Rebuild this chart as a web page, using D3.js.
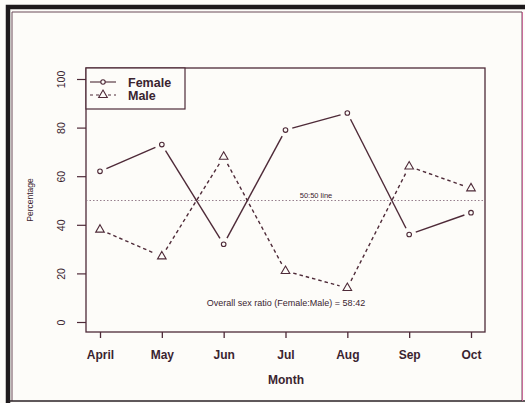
<!DOCTYPE html>
<html>
<head>
<meta charset="utf-8">
<script src="https://cdn.jsdelivr.net/npm/d3@7"></script>
<style>
  html, body { margin: 0; padding: 0; background: #ffffff; }
  svg { display: block; }
  text { font-family: "Liberation Sans", Arial, sans-serif; fill: #3a2430; }
</style>
</head>
<body>
<svg id="chart" width="525" height="403"></svg>
<script>
// Monthly sex composition (percent of catch)
const months = ["April", "May", "Jun", "Jul", "Aug", "Sep", "Oct"];
const female = [62, 73, 32, 79, 86, 36, 45];
const male = [38, 27, 68, 21, 14, 64, 55];
const yTicks = [0, 20, 40, 60, 80, 100];
const seriesNames = ["Female", "Male"];

const ink = "#4e2a38";
const svg = d3.select("#chart");

// paper + frame
svg.append("rect").attr("x", 0).attr("y", 0).attr("width", 525).attr("height", 403).attr("fill", "#fdfcf9");
svg.append("path").attr("d", "M8,403 V7 H525").attr("fill", "none").attr("stroke", "#1e1a1c").attr("stroke-width", 4.5);
svg.append("path").attr("d", "M12,401 V12 H522 V401").attr("fill", "none").attr("stroke", "#6a4a58").attr("stroke-width", 1);
svg.append("line").attr("x1", 8).attr("x2", 525).attr("y1", 401).attr("y2", 401).attr("stroke", "#2a2226").attr("stroke-width", 1.5);
svg.append("line").attr("x1", 522.5).attr("x2", 522.5).attr("y1", 12).attr("y2", 401).attr("stroke", "#c86a9a").attr("stroke-width", 1);

const plot = { left: 86, right: 485, top: 68, bottom: 332 };

const x = d3.scalePoint().domain(months).range([100, 471]);
const y = d3.scaleLinear().domain([0, 100]).range([322, 79]);

// plot box
svg.append("rect")
  .attr("x", plot.left).attr("y", plot.top)
  .attr("width", plot.right - plot.left).attr("height", plot.bottom - plot.top)
  .attr("fill", "none").attr("stroke", ink).attr("stroke-width", 1.3);

// x axis ticks and labels
const xAxis = svg.append("g").attr("transform", `translate(0,${plot.bottom})`)
  .call(d3.axisBottom(x).tickSize(6).tickPadding(12));
xAxis.select(".domain").remove();
xAxis.selectAll(".tick line").attr("stroke", ink).attr("stroke-width", 1.3);
xAxis.selectAll(".tick text")
  .attr("font-size", 12).attr("font-weight", "bold")
  .attr("font-family", "Liberation Sans, Arial, sans-serif")
  .style("fill", "#3a2430");

// y axis ticks and rotated labels
const yAxis = svg.append("g").attr("transform", `translate(${plot.left},0)`)
  .call(d3.axisLeft(y).tickValues(yTicks).tickSize(9).tickFormat(d3.format("d")));
yAxis.select(".domain").remove();
yAxis.selectAll(".tick line").attr("stroke", ink).attr("stroke-width", 1.2);
yAxis.selectAll(".tick text")
  .attr("x", null).attr("dy", null)
  .attr("transform", "translate(-25,0) rotate(-90)")
  .attr("text-anchor", "middle")
  .attr("dominant-baseline", "central")
  .attr("font-size", 10.5)
  .attr("font-family", "Liberation Sans, Arial, sans-serif")
  .style("fill", "#3a2430");

// axis titles
svg.append("text").attr("x", 286).attr("y", 384).attr("text-anchor", "middle")
  .attr("font-size", 12).attr("font-weight", "bold").text("Month");
svg.append("text").attr("transform", "translate(33,200) rotate(-90)").attr("text-anchor", "middle")
  .attr("font-size", 8.5).text("Percentage");

// 50:50 reference line
svg.append("line")
  .attr("x1", plot.left).attr("x2", plot.right).attr("y1", y(50)).attr("y2", y(50))
  .attr("stroke", "#8a7080").attr("stroke-width", 0.9).attr("stroke-dasharray", "1.5,2");
svg.append("text").attr("x", 316).attr("y", y(50) - 3).attr("text-anchor", "middle")
  .attr("font-size", 7.5).text("50:50 line");

svg.append("text").attr("x", 286).attr("y", 306).attr("text-anchor", "middle")
  .attr("font-size", 9).text("Overall sex ratio (Female:Male) = 58:42");

// connecting segments with a gap around each marker (R type = "b")
function segments(values, gap) {
  const pts = values.map((v, i) => [x(months[i]), y(v)]);
  const segs = [];
  for (let i = 0; i < pts.length - 1; i++) {
    const [x0, y0] = pts[i], [x1, y1] = pts[i + 1];
    const len = Math.hypot(x1 - x0, y1 - y0);
    const ux = (x1 - x0) / len, uy = (y1 - y0) / len;
    segs.push([x0 + ux * gap, y0 + uy * gap, x1 - ux * gap, y1 - uy * gap]);
  }
  return segs;
}

svg.append("g").selectAll("line").data(segments(female, 7)).join("line")
  .attr("x1", d => d[0]).attr("y1", d => d[1]).attr("x2", d => d[2]).attr("y2", d => d[3])
  .attr("stroke", ink).attr("stroke-width", 1.4);

svg.append("g").selectAll("line").data(segments(male, 8)).join("line")
  .attr("x1", d => d[0]).attr("y1", d => d[1]).attr("x2", d => d[2]).attr("y2", d => d[3])
  .attr("stroke", ink).attr("stroke-width", 1.4).attr("stroke-dasharray", "3.5,3");

// markers
svg.append("g").selectAll("circle").data(female).join("circle")
  .attr("cx", (d, i) => x(months[i])).attr("cy", d => y(d)).attr("r", 2.3)
  .attr("fill", "none").attr("stroke", ink).attr("stroke-width", 1.1);

const tri = d3.symbol().type(d3.symbolTriangle).size(32);
svg.append("g").selectAll("path").data(male).join("path")
  .attr("d", tri)
  .attr("transform", (d, i) => `translate(${x(months[i])},${y(d)})`)
  .attr("fill", "none").attr("stroke", ink).attr("stroke-width", 1.1);

// legend
const lg = svg.append("g");
lg.append("rect").attr("x", plot.left).attr("y", plot.top).attr("width", 99).attr("height", 41)
  .attr("fill", "#fdfcf9").attr("stroke", ink).attr("stroke-width", 1.2);
seriesNames.forEach((name, i) => {
  const ly = 82 + i * 13;
  lg.append("line").attr("x1", 90).attr("x2", 116).attr("y1", ly).attr("y2", ly)
    .attr("stroke", ink).attr("stroke-width", 1.1)
    .attr("stroke-dasharray", i === 0 ? null : "3,3");
  if (i === 0) {
    lg.append("circle").attr("cx", 103).attr("cy", ly).attr("r", 2.2)
      .attr("fill", "#fdfcf9").attr("stroke", ink).attr("stroke-width", 1.1);
  } else {
    lg.append("path").attr("d", tri).attr("transform", `translate(103,${ly})`)
      .attr("fill", "#fdfcf9").attr("stroke", ink).attr("stroke-width", 1.1);
  }
  lg.append("text").attr("x", 128).attr("y", ly + 4.5).attr("font-size", 12.5).attr("font-weight", "bold").text(name);
});
</script>
</body>
</html>
